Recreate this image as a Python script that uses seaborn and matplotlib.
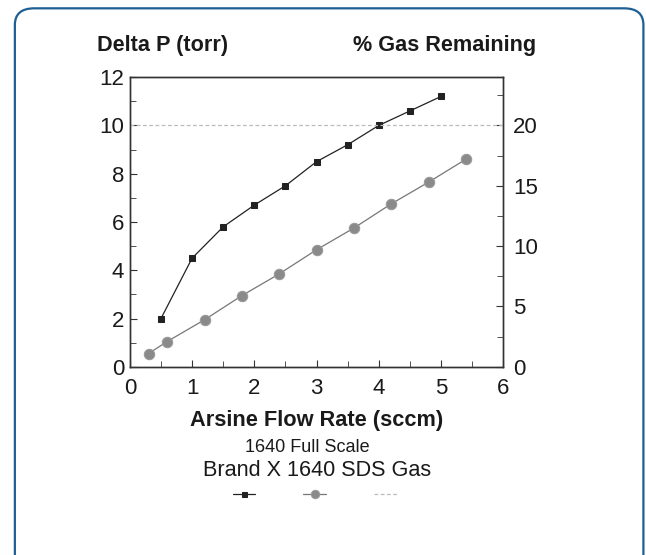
# %% libraries
import matplotlib
matplotlib.use('Agg')
import matplotlib.pyplot as plt
from matplotlib.patches import FancyBboxPatch
from matplotlib.ticker import MultipleLocator
import seaborn as sns
import pandas as pd

# %% data
flow_dp = [0.5, 1.0, 1.5, 2.0, 2.5, 3.0, 3.5, 4.0, 4.5, 5.0]
delta_p = [2.0, 4.5, 5.8, 6.7, 7.5, 8.5, 9.2, 10.0, 10.6, 11.2]

flow_gas = [0.3, 0.6, 1.2, 1.8, 2.4, 3.0, 3.6, 4.2, 4.8, 5.4]
gas_remaining = [1.1, 2.1, 3.9, 5.9, 7.7, 9.7, 11.5, 13.5, 15.3, 17.2]

ref_flow = [0, 6]
ref_level = [20, 20]

df_dp = pd.DataFrame({'flow': flow_dp, 'dp': delta_p})
df_gas = pd.DataFrame({'flow': flow_gas, 'gas': gas_remaining})
df_ref = pd.DataFrame({'flow': ref_flow, 'gas': ref_level})

# %% style
sns.set_style('ticks')
plt.rcParams['font.family'] = ['Liberation Sans', 'DejaVu Sans']

# %% figure
fig = plt.figure(figsize=(6.46, 5.55), dpi=100)
ax = fig.add_axes([0.201, 0.339, 0.578, 0.522])
ax2 = ax.twinx()

# rounded frame around the chart
frame = FancyBboxPatch((0.023, -0.05), 0.973, 1.035,
                       boxstyle='round,pad=0,rounding_size=0.03',
                       transform=fig.transFigure, facecolor='none',
                       edgecolor='#1e5f94', linewidth=1.6, zorder=-1)
fig.patches.append(frame)

# reference line at 20 %
sns.lineplot(data=df_ref, x='flow', y='gas', ax=ax2, color='#bbbbbb',
             linestyle=(0, (3, 2)), linewidth=0.9)

# delta P (left axis)
sns.lineplot(data=df_dp, x='flow', y='dp', ax=ax, color='#222222',
             linewidth=0.9, marker='s', markersize=4.5,
             markeredgecolor='#222222', zorder=3)

# gas remaining (right axis)
sns.lineplot(data=df_gas, x='flow', y='gas', ax=ax2, color='#777777',
             linewidth=0.9, marker='o', markersize=7.5,
             markeredgecolor='#999999', markerfacecolor='#8a8a8a')

# %% axes
ax.set_xlim(0, 6)
ax.set_ylim(0, 12)
ax2.set_ylim(0, 24)
ax.xaxis.set_major_locator(MultipleLocator(1))
ax.xaxis.set_minor_locator(MultipleLocator(0.5))
ax.yaxis.set_major_locator(MultipleLocator(2))
ax.yaxis.set_minor_locator(MultipleLocator(1))
ax2.yaxis.set_major_locator(MultipleLocator(5))
ax2.yaxis.set_minor_locator(MultipleLocator(2.5))

for a in (ax, ax2):
    a.tick_params(which='both', direction='in', labelsize=16,
                  color='#333333', labelcolor='#1a1a1a')
    a.tick_params(which='major', length=5)
    a.tick_params(which='minor', length=4)
    for s in a.spines.values():
        s.set_color('#333333')
        s.set_linewidth(1.0)
ax.tick_params(axis='y', pad=4)
ax.tick_params(axis='x', pad=8)
ax2.tick_params(axis='y', pad=7)
ax2.set_ylim(0, 24)
ax2.set_yticks([0, 5, 10, 15, 20])

ax.set_xlabel('Arsine Flow Rate (sccm)', fontsize=15.7, fontweight='bold',
              labelpad=8, color='#1a1a1a')
ax.set_ylabel('')
ax2.set_ylabel('')

# axis titles
fig.text(0.150, 0.918, 'Delta P (torr)', fontsize=15.6, fontweight='bold',
         ha='left', va='center', color='#1a1a1a')
fig.text(0.830, 0.918, '% Gas Remaining', fontsize=15.6, fontweight='bold',
         ha='right', va='center', color='#1a1a1a')

# footer text
fig.text(0.475, 0.193, '1640 Full Scale', fontsize=13, ha='center',
         va='center', color='#1a1a1a')
fig.text(0.491, 0.153, 'Brand X 1640 SDS Gas', fontsize=15.6, ha='center',
         va='center', color='#1a1a1a')

# legend
handles = ax.get_lines()[:1] + ax2.get_lines()[1:2] + ax2.get_lines()[:1]
leg = fig.legend(handles, ['', '', ''], loc='center',
                 bbox_to_anchor=(0.487, 0.108), ncol=3, frameon=False,
                 handlelength=1.6, columnspacing=3.5, handletextpad=0,
                 markerscale=0.8)

# save plot
plt.savefig('out.png', dpi=100)
